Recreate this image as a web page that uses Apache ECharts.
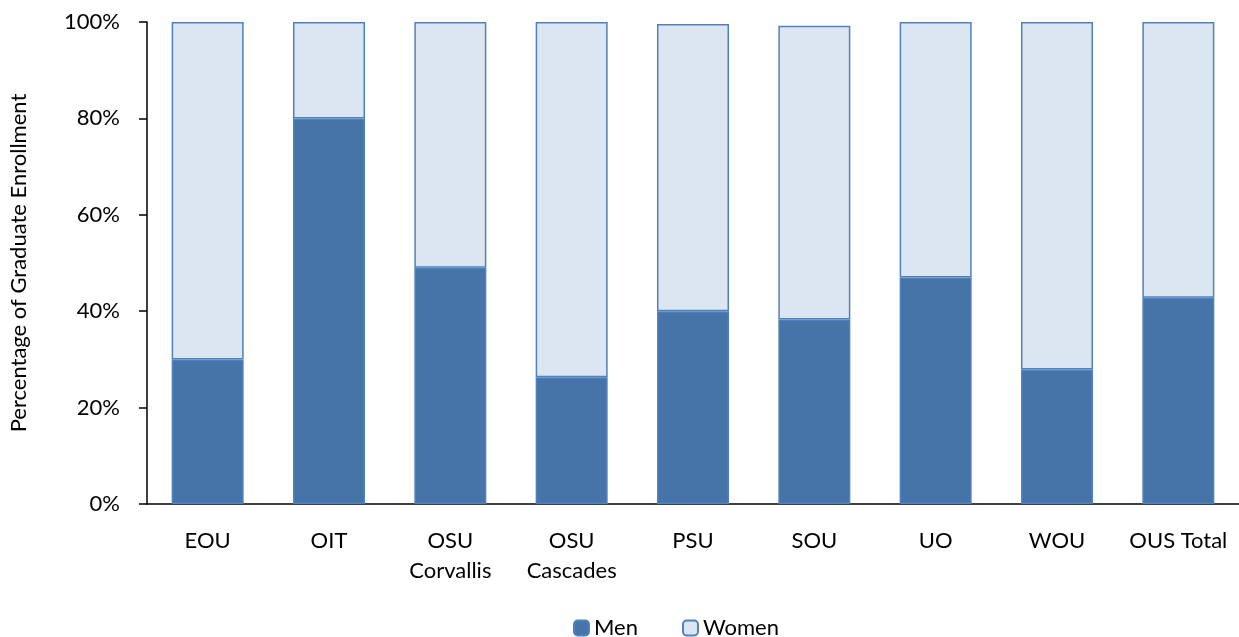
<!DOCTYPE html>
<html>
<head>
<meta charset="utf-8">
<script src="https://cdn.jsdelivr.net/npm/echarts@6/dist/echarts.min.js"></script>
<style>
  html, body { margin: 0; padding: 0; background: #fff; }
  #chart { width: 1239px; height: 637px; }
</style>
</head>
<body>
<div id="chart"></div>
<script>
// 类别与数值（百分比）
const categories = ['EOU', 'OIT', 'OSU\nCorvallis', 'OSU\nCascades', 'PSU', 'SOU', 'UO', 'WOU', 'OUS Total']
const men = [30.0, 80.0, 49.0, 26.3, 40.0, 38.3, 47.0, 27.9, 42.8]
const women = [70.0, 20.0, 51.0, 73.7, 59.6, 60.9, 53.0, 72.1, 57.2]
const yTicks = [0, 20, 40, 60, 80, 100]

const font = 'Lato, "Open Sans", sans-serif'
const chart = echarts.init(document.getElementById('chart'))

chart.setOption({
  animation: false,
  textStyle: { fontFamily: font },
  grid: { left: 147, right: 0, top: 22, bottom: 133 },
  legend: {
    left: 568,
    top: 612,
    itemWidth: 15,
    itemHeight: 15,
    itemGap: 44,
    textStyle: { fontSize: 22, color: '#000', fontFamily: font },
    data: ['Men', 'Women']
  },
  xAxis: {
    type: 'category',
    data: categories,
    axisLine: { lineStyle: { color: '#000', width: 1.5 } },
    axisTick: { show: false },
    axisLabel: { fontSize: 22, color: '#000', margin: 22, lineHeight: 30, interval: 0 }
  },
  yAxis: {
    type: 'value',
    min: yTicks[0],
    max: yTicks[yTicks.length - 1],
    interval: 20,
    name: 'Percentage of Graduate Enrollment',
    nameLocation: 'middle',
    nameGap: 117,
    nameTextStyle: { fontSize: 22, color: '#000', fontFamily: font },
    splitLine: { show: false },
    axisLine: { show: true, lineStyle: { color: '#000', width: 1.5 } },
    axisTick: { show: true, length: 8, lineStyle: { color: '#000', width: 1.5 } },
    axisLabel: { fontSize: 22, color: '#000', margin: 27, formatter: '{value}%' }
  },
  series: [
    {
      name: 'Men',
      type: 'bar',
      stack: 'total',
      barWidth: 72,
      data: men,
      itemStyle: { color: '#4674A9', borderColor: '#4F81BD', borderWidth: 1.5 }
    },
    {
      name: 'Women',
      type: 'bar',
      stack: 'total',
      barWidth: 72,
      data: women,
      itemStyle: { color: '#DCE6F2', borderColor: '#4F81BD', borderWidth: 1.5 }
    }
  ]
})
</script>
</body>
</html>
